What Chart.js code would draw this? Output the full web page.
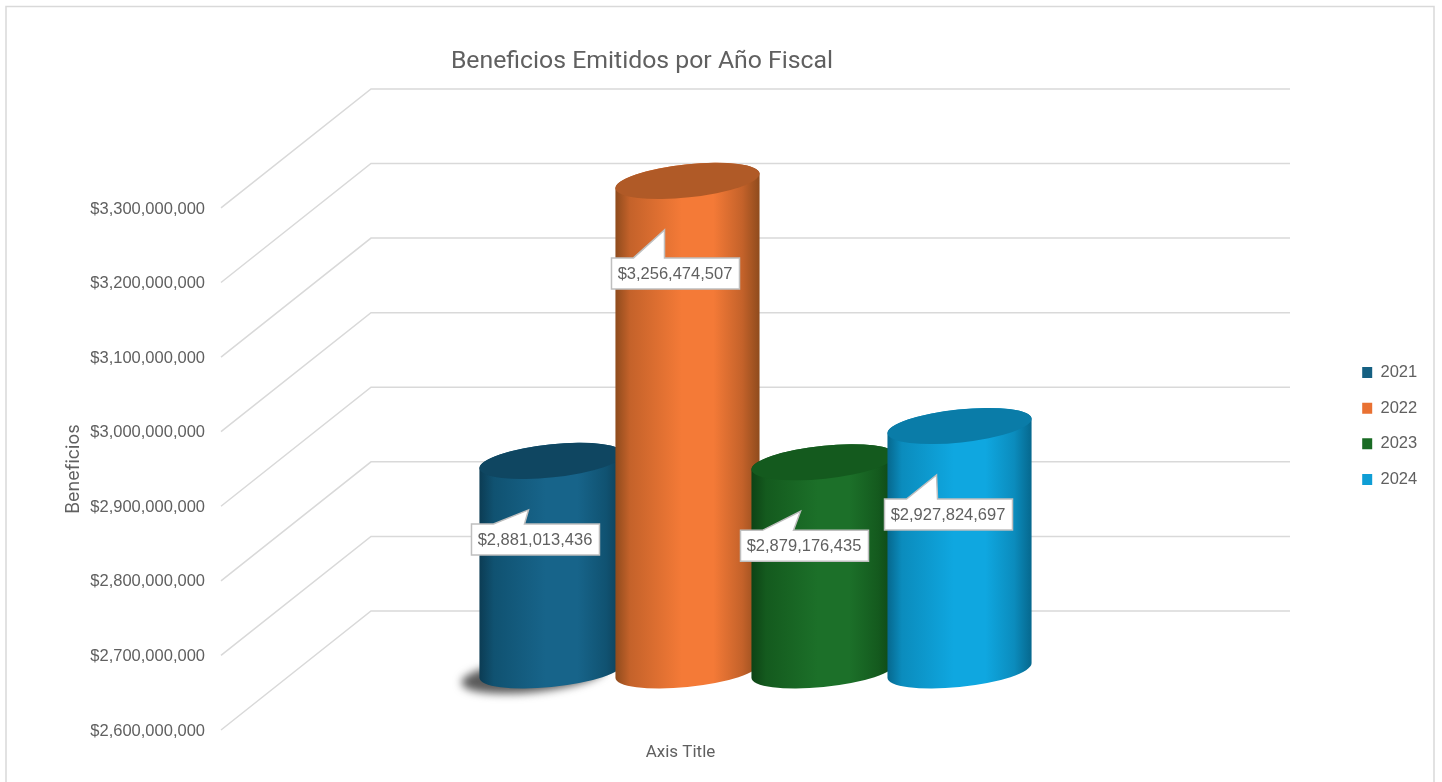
<!DOCTYPE html>
<html lang="es">

<head>
    <meta charset="UTF-8">
    <title>Beneficios Emitidos por Año Fiscal</title>
    <script src="https://cdn.jsdelivr.net/npm/chart.js"></script>
    <style>
        html, body { margin: 0; padding: 0; background: #fff; }
        #box { position: relative; width: 1442px; height: 782px; }
    </style>
</head>

<body>
    <div id="box"><canvas id="grafico" width="1442" height="782"></canvas></div>

    <script>
        const anios = ['2021', '2022', '2023', '2024'];
        const beneficios = [2881013436, 3256474507, 2879176435, 2927824697];
        const coloresLeyenda = ['#156082', '#E97132', '#196B24', '#0F9ED5'];

        // sombreado del cilindro: borde, intermedio, claro, tapa
        const sombras2021 = ['#0c3c54', '#105271', '#17648a', '#0f4661'];
        const sombras2022 = ['#8f4b1d', '#c4622a', '#f47a37', '#b05a27'];
        const sombras2023 = ['#0d4315', '#145a1e', '#1c7029', '#145a1e'];
        const sombras2024 = ['#06688e', '#0b8cbd', '#0fa7e0', '#0a7ca8'];
        const sombras = [sombras2021, sombras2022, sombras2023, sombras2024];

        // recuadro de cada etiqueta respecto al centro de la tapa
        const etiquetaDx = [-80, -76, -83, -75];
        const etiquetaDy = [63, 77, 68, 73];

        const PROF_X = 150;
        const PROF_Y = -119;
        const RADIO_MENOR = 16.5;
        const GIRO = -6 * Math.PI / 180;
        const FUENTE = '"Liberation Sans", Arial, sans-serif';
        const GRIS_TEXTO = '#606060';

        function moneda(valor) {
            return '$' + Number(valor).toLocaleString('en-US');
        }

        function dibujarCilindro(chart, barra, indice) {
            const ctx = chart.ctx;
            const tonos = sombras[indice];
            const cx = barra.x + PROF_X / 2;
            const arriba = barra.y + PROF_Y / 2;
            // la base del eje no es cero, los cilindros arrancan en el minimo
            const abajo = chart.scales.y.bottom + PROF_Y / 2;
            const a = barra.width / 2 * 1.065;
            const b = RADIO_MENOR;
            const t0 = Math.atan2(-b * Math.sin(GIRO), a * Math.cos(GIRO));
            const ex = a * Math.cos(t0) * Math.cos(GIRO) - b * Math.sin(t0) * Math.sin(GIRO);
            const ey = a * Math.cos(t0) * Math.sin(GIRO) + b * Math.sin(t0) * Math.cos(GIRO);

            ctx.save();
            if (indice === 0) {
                ctx.save();
                ctx.filter = 'blur(4px)';
                ctx.fillStyle = '#5a5a5a';
                ctx.beginPath();
                ctx.ellipse(cx - 18, abajo + 5, a, b, GIRO, 0, Math.PI * 2);
                ctx.fill();
                ctx.restore();
            }

            const grad = ctx.createLinearGradient(cx - ex, 0, cx + ex, 0);
            grad.addColorStop(0, tonos[0]);
            grad.addColorStop(0.1, tonos[1]);
            grad.addColorStop(0.46, tonos[2]);
            grad.addColorStop(0.68, tonos[2]);
            grad.addColorStop(0.88, tonos[1]);
            grad.addColorStop(1, tonos[0]);

            ctx.beginPath();
            ctx.ellipse(cx, abajo, a, b, GIRO, t0, t0 + Math.PI);
            ctx.lineTo(cx - ex, arriba - ey);
            ctx.ellipse(cx, arriba, a, b, GIRO, t0 + Math.PI, t0 + Math.PI * 2);
            ctx.closePath();
            ctx.fillStyle = grad;
            ctx.fill();

            ctx.beginPath();
            ctx.ellipse(cx, arriba, a, b, GIRO, 0, Math.PI * 2);
            ctx.fillStyle = tonos[3];
            ctx.fill();
            ctx.restore();
        }

        function dibujarEtiqueta(chart, barra, indice, valor) {
            const ctx = chart.ctx;
            const cx = barra.x + PROF_X / 2;
            const arriba = barra.y + PROF_Y / 2;
            const x = cx + etiquetaDx[indice];
            const y = arriba + etiquetaDy[indice];
            const ancho = 128;
            const alto = 31;

            ctx.save();
            ctx.beginPath();
            ctx.moveTo(x, y);
            ctx.lineTo(x + 22, y);
            ctx.lineTo(cx - 23, arriba + 49);
            ctx.lineTo(x + 53, y);
            ctx.lineTo(x + ancho, y);
            ctx.lineTo(x + ancho, y + alto);
            ctx.lineTo(x, y + alto);
            ctx.closePath();
            ctx.fillStyle = '#ffffff';
            ctx.fill();
            ctx.strokeStyle = '#bfbfbf';
            ctx.lineWidth = 1.5;
            ctx.stroke();

            ctx.fillStyle = GRIS_TEXTO;
            ctx.font = '16.5px ' + FUENTE;
            ctx.textAlign = 'center';
            ctx.textBaseline = 'middle';
            ctx.fillText(moneda(valor), x + ancho / 2 - 0.5, y + alto / 2 + 1);
            ctx.restore();
        }

        const escena3d = {
            id: 'escena3d',
            afterLayout(chart) {
                // titulo y leyenda van fuera del sitio que les da el layout
                chart.titleBlock.left = 0;
                chart.titleBlock.right = 1284;
                const leyenda = chart.legend;
                const w = leyenda.width;
                const h = leyenda.height;
                leyenda.left = 1343;
                leyenda.right = leyenda.left + w;
                leyenda.top = 345;
                leyenda.bottom = leyenda.top + h;
            },
            beforeDraw(chart) {
                const ctx = chart.ctx;
                ctx.save();
                ctx.strokeStyle = '#d9d9d9';
                ctx.lineWidth = 1.5;
                ctx.strokeRect(6, 6.5, 1428, 800);
                ctx.restore();
            },
            beforeDatasetsDraw(chart) {
                const ctx = chart.ctx;
                const area = chart.chartArea;
                const y = chart.scales.y;
                ctx.save();
                ctx.strokeStyle = '#d9d9d9';
                ctx.lineWidth = 1.5;
                y.ticks.forEach(t => {
                    const py = y.getPixelForValue(t.value);
                    ctx.beginPath();
                    ctx.moveTo(area.left, py);
                    ctx.lineTo(area.left + PROF_X, py + PROF_Y);
                    ctx.lineTo(area.right + PROF_X, py + PROF_Y);
                    ctx.stroke();
                });
                ctx.restore();
            },
            // chart.js pinta de la ultima serie a la primera, aqui hace falta al reves
            beforeDatasetDraw() {
                return false;
            },
            afterDatasetsDraw(chart) {
                chart.data.datasets.forEach((ds, i) => {
                    dibujarCilindro(chart, chart.getDatasetMeta(i).data[0], i);
                });
                chart.data.datasets.forEach((ds, i) => {
                    dibujarEtiqueta(chart, chart.getDatasetMeta(i).data[0], i, ds.data[0]);
                });
            }
        };

        new Chart(document.getElementById('grafico'), {
            type: 'bar',
            data: {
                labels: [''],
                datasets: anios.map((anio, i) => ({
                    label: anio,
                    data: [beneficios[i]],
                    backgroundColor: coloresLeyenda[i],
                    borderWidth: 0
                }))
            },
            options: {
                responsive: false,
                animation: false,
                events: [],
                categoryPercentage: 0.592,
                barPercentage: 1,
                layout: { padding: { left: 0, top: 0, right: 302, bottom: 0 } },
                scales: {
                    x: {
                        grid: { display: false },
                        border: { display: false },
                        ticks: { display: false },
                        title: {
                            display: true,
                            text: 'Axis Title',
                            color: GRIS_TEXTO,
                            font: { family: 'Roboto', size: 17, lineHeight: 1.2 },
                            padding: { top: 12.4, bottom: 19.4 }
                        },
                        afterFit: s => { s.height = 52; }
                    },
                    y: {
                        min: 2600000000,
                        max: 3300000000,
                        grid: { display: false, drawTicks: false },
                        border: { display: false },
                        ticks: {
                            stepSize: 100000000,
                            padding: 16,
                            labelOffset: 1,
                            color: GRIS_TEXTO,
                            font: { family: FUENTE, size: 16.5 },
                            callback: moneda
                        },
                        title: {
                            display: true,
                            text: 'Beneficios',
                            color: GRIS_TEXTO,
                            font: { family: 'Inter', size: 18, lineHeight: 1.2 },
                            padding: { top: 63, bottom: 0 }
                        },
                        afterFit: s => { s.width = 221; }
                    }
                },
                plugins: {
                    tooltip: { enabled: false },
                    title: {
                        display: true,
                        text: 'Beneficios Emitidos por Año Fiscal',
                        color: GRIS_TEXTO,
                        font: { family: 'Roboto', size: 24.8, weight: 'normal', lineHeight: 1.2 },
                        padding: { top: 46.6, bottom: 131.6 }
                    },
                    legend: {
                        position: 'chartArea',
                        align: 'start',
                        labels: {
                            boxWidth: 10,
                            boxHeight: 11,
                            padding: 19.2,
                            color: GRIS_TEXTO,
                            font: { family: FUENTE, size: 16.5 }
                        }
                    }
                }
            },
            plugins: [escena3d]
        });
    </script>
</body>

</html>
